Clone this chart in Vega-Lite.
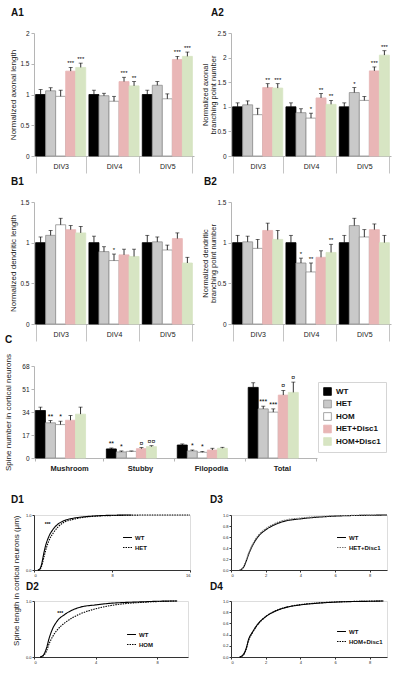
{
"$schema": "https://vega.github.io/schema/vega-lite/v6.json",
"padding": {"left": 3, "top": 8, "right": 2, "bottom": 2},
"config": {"font": "Liberation Sans", "view": {"stroke": null}, "axis": {"grid": false, "labelColor": "#222", "titleColor": "#222"}, "title": {"color": "#111"}},
"datasets": {
"a1": [
{"g":"DIV3","s":"WT","v":1.00,"e":1.08,"sig":""},
{"g":"DIV3","s":"HET","v":1.06,"e":1.11,"sig":""},
{"g":"DIV3","s":"HOM","v":0.97,"e":1.07,"sig":""},
{"g":"DIV3","s":"HET+Disc1","v":1.38,"e":1.44,"sig":"***"},
{"g":"DIV3","s":"HOM+Disc1","v":1.44,"e":1.51,"sig":"***"},
{"g":"DIV4","s":"WT","v":1.00,"e":1.07,"sig":""},
{"g":"DIV4","s":"HET","v":0.98,"e":1.02,"sig":""},
{"g":"DIV4","s":"HOM","v":0.89,"e":0.97,"sig":""},
{"g":"DIV4","s":"HET+Disc1","v":1.21,"e":1.28,"sig":"***"},
{"g":"DIV4","s":"HOM+Disc1","v":1.14,"e":1.21,"sig":"**"},
{"g":"DIV5","s":"WT","v":1.00,"e":1.07,"sig":""},
{"g":"DIV5","s":"HET","v":1.15,"e":1.21,"sig":""},
{"g":"DIV5","s":"HOM","v":0.93,"e":1.01,"sig":""},
{"g":"DIV5","s":"HET+Disc1","v":1.57,"e":1.62,"sig":"***"},
{"g":"DIV5","s":"HOM+Disc1","v":1.62,"e":1.69,"sig":"***"}
],
"a2": [
{"g":"DIV3","s":"WT","v":1.00,"e":1.08,"sig":""},
{"g":"DIV3","s":"HET","v":1.04,"e":1.12,"sig":""},
{"g":"DIV3","s":"HOM","v":0.84,"e":0.97,"sig":""},
{"g":"DIV3","s":"HET+Disc1","v":1.39,"e":1.47,"sig":"**"},
{"g":"DIV3","s":"HOM+Disc1","v":1.38,"e":1.47,"sig":"***"},
{"g":"DIV4","s":"WT","v":1.00,"e":1.08,"sig":""},
{"g":"DIV4","s":"HET","v":0.88,"e":0.96,"sig":""},
{"g":"DIV4","s":"HOM","v":0.77,"e":0.87,"sig":"*"},
{"g":"DIV4","s":"HET+Disc1","v":1.18,"e":1.27,"sig":"**"},
{"g":"DIV4","s":"HOM+Disc1","v":1.05,"e":1.13,"sig":"**"},
{"g":"DIV5","s":"WT","v":1.00,"e":1.08,"sig":""},
{"g":"DIV5","s":"HET","v":1.29,"e":1.39,"sig":"*"},
{"g":"DIV5","s":"HOM","v":1.13,"e":1.21,"sig":""},
{"g":"DIV5","s":"HET+Disc1","v":1.73,"e":1.81,"sig":"***"},
{"g":"DIV5","s":"HOM+Disc1","v":2.05,"e":2.14,"sig":"***"}
],
"b1": [
{"g":"DIV3","s":"WT","v":1.00,"e":1.07,"sig":""},
{"g":"DIV3","s":"HET","v":1.09,"e":1.15,"sig":""},
{"g":"DIV3","s":"HOM","v":1.22,"e":1.30,"sig":""},
{"g":"DIV3","s":"HET+Disc1","v":1.16,"e":1.21,"sig":""},
{"g":"DIV3","s":"HOM+Disc1","v":1.12,"e":1.20,"sig":""},
{"g":"DIV4","s":"WT","v":1.00,"e":1.08,"sig":""},
{"g":"DIV4","s":"HET","v":0.89,"e":0.95,"sig":""},
{"g":"DIV4","s":"HOM","v":0.78,"e":0.86,"sig":"*"},
{"g":"DIV4","s":"HET+Disc1","v":0.85,"e":0.92,"sig":""},
{"g":"DIV4","s":"HOM+Disc1","v":0.83,"e":0.92,"sig":""},
{"g":"DIV5","s":"WT","v":1.00,"e":1.09,"sig":""},
{"g":"DIV5","s":"HET","v":1.01,"e":1.07,"sig":""},
{"g":"DIV5","s":"HOM","v":0.91,"e":0.97,"sig":""},
{"g":"DIV5","s":"HET+Disc1","v":1.05,"e":1.12,"sig":""},
{"g":"DIV5","s":"HOM+Disc1","v":0.75,"e":0.82,"sig":""}
],
"b2": [
{"g":"DIV3","s":"WT","v":1.00,"e":1.09,"sig":""},
{"g":"DIV3","s":"HET","v":1.01,"e":1.08,"sig":""},
{"g":"DIV3","s":"HOM","v":0.93,"e":1.04,"sig":""},
{"g":"DIV3","s":"HET+Disc1","v":1.15,"e":1.24,"sig":""},
{"g":"DIV3","s":"HOM+Disc1","v":1.04,"e":1.15,"sig":""},
{"g":"DIV4","s":"WT","v":1.00,"e":1.09,"sig":""},
{"g":"DIV4","s":"HET","v":0.75,"e":0.81,"sig":"*"},
{"g":"DIV4","s":"HOM","v":0.64,"e":0.75,"sig":"**"},
{"g":"DIV4","s":"HET+Disc1","v":0.82,"e":0.90,"sig":""},
{"g":"DIV4","s":"HOM+Disc1","v":0.88,"e":0.98,"sig":"**"},
{"g":"DIV5","s":"WT","v":1.00,"e":1.09,"sig":""},
{"g":"DIV5","s":"HET","v":1.21,"e":1.30,"sig":""},
{"g":"DIV5","s":"HOM","v":1.07,"e":1.16,"sig":""},
{"g":"DIV5","s":"HET+Disc1","v":1.16,"e":1.23,"sig":""},
{"g":"DIV5","s":"HOM+Disc1","v":1.00,"e":1.09,"sig":""}
],
"c": [
{"g":"Mushroom","s":"WT","v":35.1,"e":37.6,"sig":""},
{"g":"Mushroom","s":"HET","v":26.0,"e":27.7,"sig":"**"},
{"g":"Mushroom","s":"HOM","v":24.7,"e":27.2,"sig":"*"},
{"g":"Mushroom","s":"HET+Disc1","v":27.9,"e":31.4,"sig":""},
{"g":"Mushroom","s":"HOM+Disc1","v":32.4,"e":37.6,"sig":""},
{"g":"Stubby","s":"WT","v":6.7,"e":7.4,"sig":"**"},
{"g":"Stubby","s":"HET","v":4.5,"e":5.2,"sig":"*"},
{"g":"Stubby","s":"HOM","v":4.9,"e":5.2,"sig":""},
{"g":"Stubby","s":"HET+Disc1","v":6.9,"e":7.7,"sig":"¤"},
{"g":"Stubby","s":"HOM+Disc1","v":8.4,"e":9.1,"sig":"¤¤"},
{"g":"Filopodia","s":"WT","v":9.6,"e":10.4,"sig":""},
{"g":"Filopodia","s":"HET","v":5.2,"e":5.9,"sig":"*"},
{"g":"Filopodia","s":"HOM","v":4.2,"e":4.9,"sig":"*"},
{"g":"Filopodia","s":"HET+Disc1","v":5.9,"e":7.2,"sig":""},
{"g":"Filopodia","s":"HOM+Disc1","v":7.2,"e":7.9,"sig":""},
{"g":"Total","s":"WT","v":52.2,"e":55.6,"sig":""},
{"g":"Total","s":"HET","v":36.3,"e":38.3,"sig":"***"},
{"g":"Total","s":"HOM","v":33.9,"e":36.3,"sig":"***"},
{"g":"Total","s":"HET+Disc1","v":46.5,"e":49.9,"sig":"¤"},
{"g":"Total","s":"HOM+Disc1","v":48.5,"e":56.1,"sig":"¤"}
],
"d1": [
{"s":"WT","x":0.4,"y":0},{"s":"WT","x":0.6,"y":0.02},{"s":"WT","x":0.8,"y":0.12},{"s":"WT","x":1.0,"y":0.3},{"s":"WT","x":1.2,"y":0.45},{"s":"WT","x":1.5,"y":0.6},{"s":"WT","x":2,"y":0.75},{"s":"WT","x":2.5,"y":0.84},{"s":"WT","x":3,"y":0.89},{"s":"WT","x":4,"y":0.94},{"s":"WT","x":5,"y":0.965},{"s":"WT","x":6,"y":0.98},{"s":"WT","x":7,"y":0.99},{"s":"WT","x":8,"y":0.995},{"s":"WT","x":10,"y":1.0},
{"s":"HET","x":0.4,"y":0},{"s":"HET","x":0.6,"y":0.01},{"s":"HET","x":0.8,"y":0.08},{"s":"HET","x":1.0,"y":0.22},{"s":"HET","x":1.2,"y":0.36},{"s":"HET","x":1.5,"y":0.52},{"s":"HET","x":2,"y":0.68},{"s":"HET","x":2.5,"y":0.79},{"s":"HET","x":3,"y":0.86},{"s":"HET","x":4,"y":0.92},{"s":"HET","x":5,"y":0.955},{"s":"HET","x":6,"y":0.975},{"s":"HET","x":7,"y":0.985},{"s":"HET","x":8,"y":0.99},{"s":"HET","x":10,"y":0.997},{"s":"HET","x":12,"y":1.0},{"s":"HET","x":16,"y":1.0}
],
"d2": [
{"s":"WT","x":0.4,"y":0},{"s":"WT","x":0.6,"y":0.03},{"s":"WT","x":0.8,"y":0.15},{"s":"WT","x":1.0,"y":0.35},{"s":"WT","x":1.2,"y":0.5},{"s":"WT","x":1.5,"y":0.64},{"s":"WT","x":2,"y":0.76},{"s":"WT","x":2.5,"y":0.84},{"s":"WT","x":3,"y":0.89},{"s":"WT","x":4,"y":0.93},{"s":"WT","x":5,"y":0.96},{"s":"WT","x":6,"y":0.975},{"s":"WT","x":7,"y":0.985},{"s":"WT","x":8,"y":0.995},{"s":"WT","x":9.3,"y":1.0},
{"s":"HOM","x":0.4,"y":0},{"s":"HOM","x":0.6,"y":0.02},{"s":"HOM","x":0.8,"y":0.1},{"s":"HOM","x":1.0,"y":0.25},{"s":"HOM","x":1.2,"y":0.36},{"s":"HOM","x":1.5,"y":0.48},{"s":"HOM","x":2,"y":0.61},{"s":"HOM","x":2.5,"y":0.7},{"s":"HOM","x":3,"y":0.77},{"s":"HOM","x":4,"y":0.86},{"s":"HOM","x":5,"y":0.92},{"s":"HOM","x":6,"y":0.955},{"s":"HOM","x":7,"y":0.975},{"s":"HOM","x":8,"y":0.99},{"s":"HOM","x":9.3,"y":1.0}
],
"d3": [
{"s":"WT","x":0.5,"y":0},{"s":"WT","x":0.7,"y":0.04},{"s":"WT","x":0.9,"y":0.18},{"s":"WT","x":1.0,"y":0.27},{"s":"WT","x":1.25,"y":0.45},{"s":"WT","x":1.5,"y":0.58},{"s":"WT","x":2,"y":0.73},{"s":"WT","x":2.5,"y":0.82},{"s":"WT","x":3,"y":0.88},{"s":"WT","x":4,"y":0.93},{"s":"WT","x":5,"y":0.96},{"s":"WT","x":6,"y":0.98},{"s":"WT","x":7,"y":0.99},{"s":"WT","x":8,"y":0.995},{"s":"WT","x":9,"y":1.0},
{"s":"HET+Disc1","x":0.5,"y":0},{"s":"HET+Disc1","x":0.7,"y":0.05},{"s":"HET+Disc1","x":0.9,"y":0.2},{"s":"HET+Disc1","x":1.0,"y":0.29},{"s":"HET+Disc1","x":1.25,"y":0.47},{"s":"HET+Disc1","x":1.5,"y":0.6},{"s":"HET+Disc1","x":2,"y":0.75},{"s":"HET+Disc1","x":2.5,"y":0.84},{"s":"HET+Disc1","x":3,"y":0.9},{"s":"HET+Disc1","x":4,"y":0.945},{"s":"HET+Disc1","x":5,"y":0.97},{"s":"HET+Disc1","x":6,"y":0.985},{"s":"HET+Disc1","x":7,"y":0.993},{"s":"HET+Disc1","x":8,"y":0.998},{"s":"HET+Disc1","x":9,"y":1.0}
],
"d4": [
{"s":"WT","x":0.5,"y":0},{"s":"WT","x":0.7,"y":0.04},{"s":"WT","x":0.9,"y":0.18},{"s":"WT","x":1.0,"y":0.3},{"s":"WT","x":1.25,"y":0.45},{"s":"WT","x":1.5,"y":0.57},{"s":"WT","x":2,"y":0.72},{"s":"WT","x":2.5,"y":0.81},{"s":"WT","x":3,"y":0.87},{"s":"WT","x":4,"y":0.93},{"s":"WT","x":5,"y":0.96},{"s":"WT","x":6,"y":0.98},{"s":"WT","x":7,"y":0.99},{"s":"WT","x":8,"y":0.995},{"s":"WT","x":8.8,"y":1.0},
{"s":"HOM+Disc1","x":0.5,"y":0},{"s":"HOM+Disc1","x":0.7,"y":0.03},{"s":"HOM+Disc1","x":0.9,"y":0.16},{"s":"HOM+Disc1","x":1.0,"y":0.28},{"s":"HOM+Disc1","x":1.25,"y":0.44},{"s":"HOM+Disc1","x":1.5,"y":0.56},{"s":"HOM+Disc1","x":2,"y":0.72},{"s":"HOM+Disc1","x":2.5,"y":0.815},{"s":"HOM+Disc1","x":3,"y":0.875},{"s":"HOM+Disc1","x":4,"y":0.935},{"s":"HOM+Disc1","x":5,"y":0.965},{"s":"HOM+Disc1","x":6,"y":0.982},{"s":"HOM+Disc1","x":7,"y":0.992},{"s":"HOM+Disc1","x":8,"y":0.997},{"s":"HOM+Disc1","x":8.8,"y":1.0}
],
"n1": [{"x":1.4,"y":0.84,"t":"***"}],
"n2": [{"x":1.7,"y":0.79,"t":"***"}],
"empty": []
},
"resolve": {"scale": {"fill": "independent", "stroke": "independent", "strokeDash": "independent"}, "legend": {"fill": "independent", "stroke": "independent", "strokeDash": "independent"}},
"columns": 3,
"bounds": "flush",
"align": {"row": "each", "column": "each"},
"spacing": {"row": 31, "column": 37},
"concat": [
{
"title": {"text": "A1", "anchor": "start", "frame": "group", "dx": -23, "offset": 12, "fontSize": 10, "fontWeight": "bold"},
"width": 160, "height": 123,
"data": {"name": "a1"},
"encoding": {
"x": {"field": "g", "type": "nominal", "sort": ["DIV3","DIV4","DIV5"], "scale": {"paddingInner": 0.06, "paddingOuter": 0.03}, "axis": {"title": null, "labelAngle": 0, "labelFontSize": 7, "tickSize": 17, "tickBand": "extent", "labelPadding": -10.5, "tickColor": "#c4c4c4", "domainColor": "#b5b5b5"}},
"xOffset": {"field": "s", "type": "nominal", "sort": ["WT","HET","HOM","HET+Disc1","HOM+Disc1"], "scale": {"paddingInner": 0, "paddingOuter": 0}},
"y": {"field": "v", "type": "quantitative", "scale": {"domain": [0, 2], "nice": false}, "axis": {"title": "Normalized axonal length", "values": [0, 0.5, 1, 1.5, 2], "format": "~g", "labelFontSize": 6.5, "tickSize": 3, "labelPadding": 2, "minExtent": 14, "maxExtent": 14, "titlePadding": 3, "titleFontSize": 8, "titleFontWeight": "normal", "domainColor": "#b5b5b5", "tickColor": "#b5b5b5"}}
},
"layer": [
{"mark": {"type": "bar", "strokeWidth": 0.8}, "encoding": {"fill": {"field": "s", "type": "nominal", "scale": {"domain": ["WT","HET","HOM","HET+Disc1","HOM+Disc1"], "range": ["#000000","#c9c9c9","#ffffff","#e9b6b6","#d7e5c3"]}, "legend": null}, "stroke": {"field": "s", "type": "nominal", "scale": {"domain": ["WT","HET","HOM","HET+Disc1","HOM+Disc1"], "range": ["#000000","#8f8f8f","#8f8f8f","#e9b6b6","#d7e5c3"]}, "legend": null}}},
{"mark": {"type": "rule", "color": "#000", "strokeWidth": 0.8}, "encoding": {"y2": {"field": "e"}}},
{"mark": {"type": "tick", "color": "#000", "thickness": 0.8, "size": 4}, "encoding": {"y": {"field": "e", "type": "quantitative"}}},
{"mark": {"type": "text", "fontSize": 6, "dy": -1, "baseline": "bottom"}, "encoding": {"y": {"field": "e", "type": "quantitative"}, "text": {"field": "sig"}}}
]
},
{
"title": {"text": "A2", "anchor": "start", "frame": "group", "dx": -20, "offset": 12, "fontSize": 10, "fontWeight": "bold"},
"width": 160, "height": 123,
"data": {"name": "a2"},
"encoding": {
"x": {"field": "g", "type": "nominal", "sort": ["DIV3","DIV4","DIV5"], "scale": {"paddingInner": 0.06, "paddingOuter": 0.03}, "axis": {"title": null, "labelAngle": 0, "labelFontSize": 7, "tickSize": 17, "tickBand": "extent", "labelPadding": -10.5, "tickColor": "#c4c4c4", "domainColor": "#b5b5b5"}},
"xOffset": {"field": "s", "type": "nominal", "sort": ["WT","HET","HOM","HET+Disc1","HOM+Disc1"], "scale": {"paddingInner": 0, "paddingOuter": 0}},
"y": {"field": "v", "type": "quantitative", "scale": {"domain": [0, 2.5], "nice": false}, "axis": {"title": ["Normalized axonal", "branching point number"], "values": [0, 0.5, 1, 1.5, 2, 2.5], "format": "~g", "labelFontSize": 6.5, "tickSize": 3, "labelPadding": 2, "minExtent": 13, "maxExtent": 13, "titlePadding": 1, "titleFontSize": 7.5, "titleLineHeight": 8, "titleFontWeight": "normal", "domainColor": "#b5b5b5", "tickColor": "#b5b5b5"}}
},
"layer": [
{"mark": {"type": "bar", "strokeWidth": 0.8}, "encoding": {"fill": {"field": "s", "type": "nominal", "scale": {"domain": ["WT","HET","HOM","HET+Disc1","HOM+Disc1"], "range": ["#000000","#c9c9c9","#ffffff","#e9b6b6","#d7e5c3"]}, "legend": null}, "stroke": {"field": "s", "type": "nominal", "scale": {"domain": ["WT","HET","HOM","HET+Disc1","HOM+Disc1"], "range": ["#000000","#8f8f8f","#8f8f8f","#e9b6b6","#d7e5c3"]}, "legend": null}}},
{"mark": {"type": "rule", "color": "#000", "strokeWidth": 0.8}, "encoding": {"y2": {"field": "e"}}},
{"mark": {"type": "tick", "color": "#000", "thickness": 0.8, "size": 4}, "encoding": {"y": {"field": "e", "type": "quantitative"}}},
{"mark": {"type": "text", "fontSize": 6, "dy": -1, "baseline": "bottom"}, "encoding": {"y": {"field": "e", "type": "quantitative"}, "text": {"field": "sig"}}}
]
},
{"width": 1, "height": 138, "data": {"name": "empty"}, "mark": {"type": "point", "opacity": 0}},
{
"title": {"text": "B1", "anchor": "start", "frame": "group", "dx": -23, "offset": 12, "fontSize": 10, "fontWeight": "bold"},
"width": 160, "height": 122,
"data": {"name": "b1"},
"encoding": {
"x": {"field": "g", "type": "nominal", "sort": ["DIV3","DIV4","DIV5"], "scale": {"paddingInner": 0.06, "paddingOuter": 0.03}, "axis": {"title": null, "labelAngle": 0, "labelFontSize": 7, "tickSize": 17, "tickBand": "extent", "labelPadding": -10.5, "tickColor": "#c4c4c4", "domainColor": "#b5b5b5"}},
"xOffset": {"field": "s", "type": "nominal", "sort": ["WT","HET","HOM","HET+Disc1","HOM+Disc1"], "scale": {"paddingInner": 0, "paddingOuter": 0}},
"y": {"field": "v", "type": "quantitative", "scale": {"domain": [0, 1.5], "nice": false}, "axis": {"title": "Normalized dendritic length", "values": [0, 0.5, 1, 1.5], "format": "~g", "labelFontSize": 6.5, "tickSize": 3, "labelPadding": 2, "minExtent": 14, "maxExtent": 14, "titlePadding": 3, "titleFontSize": 8, "titleFontWeight": "normal", "domainColor": "#b5b5b5", "tickColor": "#b5b5b5"}}
},
"layer": [
{"mark": {"type": "bar", "strokeWidth": 0.8}, "encoding": {"fill": {"field": "s", "type": "nominal", "scale": {"domain": ["WT","HET","HOM","HET+Disc1","HOM+Disc1"], "range": ["#000000","#c9c9c9","#ffffff","#e9b6b6","#d7e5c3"]}, "legend": null}, "stroke": {"field": "s", "type": "nominal", "scale": {"domain": ["WT","HET","HOM","HET+Disc1","HOM+Disc1"], "range": ["#000000","#8f8f8f","#8f8f8f","#e9b6b6","#d7e5c3"]}, "legend": null}}},
{"mark": {"type": "rule", "color": "#000", "strokeWidth": 0.8}, "encoding": {"y2": {"field": "e"}}},
{"mark": {"type": "tick", "color": "#000", "thickness": 0.8, "size": 4}, "encoding": {"y": {"field": "e", "type": "quantitative"}}},
{"mark": {"type": "text", "fontSize": 6, "dy": -1, "baseline": "bottom"}, "encoding": {"y": {"field": "e", "type": "quantitative"}, "text": {"field": "sig"}}}
]
},
{
"title": {"text": "B2", "anchor": "start", "frame": "group", "dx": -27, "offset": 12, "fontSize": 10, "fontWeight": "bold"},
"width": 160, "height": 122,
"data": {"name": "b2"},
"encoding": {
"x": {"field": "g", "type": "nominal", "sort": ["DIV3","DIV4","DIV5"], "scale": {"paddingInner": 0.06, "paddingOuter": 0.03}, "axis": {"title": null, "labelAngle": 0, "labelFontSize": 7, "tickSize": 17, "tickBand": "extent", "labelPadding": -10.5, "tickColor": "#c4c4c4", "domainColor": "#b5b5b5"}},
"xOffset": {"field": "s", "type": "nominal", "sort": ["WT","HET","HOM","HET+Disc1","HOM+Disc1"], "scale": {"paddingInner": 0, "paddingOuter": 0}},
"y": {"field": "v", "type": "quantitative", "scale": {"domain": [0, 1.5], "nice": false}, "axis": {"title": ["Normalized dendritic", "branching point number"], "values": [0, 0.5, 1, 1.5], "format": "~g", "labelFontSize": 6.5, "tickSize": 3, "labelPadding": 2, "minExtent": 13, "maxExtent": 13, "titlePadding": 1, "titleFontSize": 7.5, "titleLineHeight": 8, "titleFontWeight": "normal", "domainColor": "#b5b5b5", "tickColor": "#b5b5b5"}}
},
"layer": [
{"mark": {"type": "bar", "strokeWidth": 0.8}, "encoding": {"fill": {"field": "s", "type": "nominal", "scale": {"domain": ["WT","HET","HOM","HET+Disc1","HOM+Disc1"], "range": ["#000000","#c9c9c9","#ffffff","#e9b6b6","#d7e5c3"]}, "legend": null}, "stroke": {"field": "s", "type": "nominal", "scale": {"domain": ["WT","HET","HOM","HET+Disc1","HOM+Disc1"], "range": ["#000000","#8f8f8f","#8f8f8f","#e9b6b6","#d7e5c3"]}, "legend": null}}},
{"mark": {"type": "rule", "color": "#000", "strokeWidth": 0.8}, "encoding": {"y2": {"field": "e"}}},
{"mark": {"type": "tick", "color": "#000", "thickness": 0.8, "size": 4}, "encoding": {"y": {"field": "e", "type": "quantitative"}}},
{"mark": {"type": "text", "fontSize": 6, "dy": -1, "baseline": "bottom"}, "encoding": {"y": {"field": "e", "type": "quantitative"}, "text": {"field": "sig"}}}
]
},
{"width": 1, "height": 133, "data": {"name": "empty"}, "mark": {"type": "point", "opacity": 0}},
{
"bounds": "flush",
"resolve": {"scale": {"fill": "independent", "stroke": "independent"}, "legend": {"fill": "independent", "stroke": "independent"}},
"vconcat": [
{
"title": {"text": "C", "anchor": "start", "frame": "group", "dx": -29, "offset": 9, "fontSize": 10, "fontWeight": "bold"},
"width": 283, "height": 92,
"data": {"name": "c"},
"encoding": {
"x": {"field": "g", "type": "nominal", "sort": ["Mushroom","Stubby","Filopodia","Total"], "scale": {"paddingInner": 0.05, "paddingOuter": 0.02}, "axis": {"title": null, "labelAngle": 0, "labelFontSize": 7.5, "labelFontWeight": "bold", "tickSize": 3, "tickBand": "extent", "labelPadding": 3, "tickColor": "#b5b5b5", "domainColor": "#b5b5b5"}},
"xOffset": {"field": "s", "type": "nominal", "sort": ["WT","HET","HOM","HET+Disc1","HOM+Disc1"], "scale": {"paddingInner": 0, "paddingOuter": 0}},
"y": {"field": "v", "type": "quantitative", "scale": {"domain": [0, 68], "nice": false}, "axis": {"title": "Spine number in cortical neurons", "values": [0, 17, 34, 51, 68], "labelFontSize": 6.5, "tickSize": 3, "labelPadding": 2, "minExtent": 14, "maxExtent": 14, "titlePadding": 8, "titleFontSize": 8, "titleFontWeight": "normal", "domainColor": "#b5b5b5", "tickColor": "#b5b5b5"}}
},
"layer": [
{"mark": {"type": "bar", "strokeWidth": 0.8}, "encoding": {
"fill": {"field": "s", "type": "nominal", "scale": {"domain": ["WT","HET","HOM","HET+Disc1","HOM+Disc1"], "range": ["#000000","#c9c9c9","#ffffff","#e9b6b6","#d7e5c3"]}, "legend": {"orient": "none", "legendX": 284, "legendY": 16, "title": null, "symbolType": "square", "symbolSize": 60, "labelFontSize": 8, "labelFontWeight": "bold", "labelColor": "#111", "strokeColor": "#d5d5d5", "padding": 5, "rowPadding": 1.5, "labelOffset": 4, "symbolStrokeWidth": 0.8}},
"stroke": {"field": "s", "type": "nominal", "scale": {"domain": ["WT","HET","HOM","HET+Disc1","HOM+Disc1"], "range": ["#000000","#8f8f8f","#8f8f8f","#e9b6b6","#d7e5c3"]}, "legend": {"orient": "none", "legendX": 284, "legendY": 16, "title": null, "symbolType": "square", "symbolSize": 60, "labelFontSize": 8, "labelFontWeight": "bold", "labelColor": "#111", "strokeColor": "#d5d5d5", "padding": 5, "rowPadding": 1.5, "labelOffset": 4, "symbolStrokeWidth": 0.8}}}},
{"mark": {"type": "rule", "color": "#000", "strokeWidth": 0.8}, "encoding": {"y2": {"field": "e"}}},
{"mark": {"type": "tick", "color": "#000", "thickness": 0.8, "size": 4}, "encoding": {"y": {"field": "e", "type": "quantitative"}}},
{"mark": {"type": "text", "fontSize": 7, "dy": -1, "baseline": "bottom"}, "encoding": {"y": {"field": "e", "type": "quantitative"}, "text": {"field": "sig"}}}
]
}
]
},
{"width": 1, "height": 118, "data": {"name": "empty"}, "mark": {"type": "point", "opacity": 0}},
{"width": 1, "height": 1, "data": {"name": "empty"}, "mark": {"type": "point", "opacity": 0}},
{
"title": {"text": "D1", "anchor": "start", "frame": "group", "dx": -23, "offset": 8, "fontSize": 10, "fontWeight": "bold"},
"width": 156, "height": 55,
"view": {"stroke": "#dddddd"},
"layer": [
{"data": {"name": "d1"}, "mark": {"type": "line", "strokeWidth": 1.1, "interpolate": "monotone"},
"encoding": {
"x": {"field": "x", "type": "quantitative", "scale": {"domain": [0, 16], "nice": false}, "axis": {"title": null, "values": [0,2,4,6,8,10,12,14,16], "labelFontSize": 4, "tickSize": 2, "labelPadding": 1, "domainColor": "#333", "tickColor": "#333"}},
"y": {"field": "y", "type": "quantitative", "scale": {"domain": [0, 1], "nice": false}, "axis": {"title": "Spine length in cortical neurons (μm)", "titleAnchor": "end", "titleFontSize": 8, "titleFontWeight": "normal", "titlePadding": 4, "values": [0,0.2,0.4,0.6,0.8,1], "format": ".1f", "labelFontSize": 4, "tickSize": 2, "labelPadding": 1, "minExtent": 10, "maxExtent": 10, "domainColor": "#333", "tickColor": "#333"}},
"stroke": {"field": "s", "type": "nominal", "scale": {"domain": ["WT","HET"], "range": ["#000000","#000000"]}, "legend": {"orient": "none", "legendX": 88, "legendY": 17, "title": null, "symbolType": "stroke", "symbolSize": 80, "symbolStrokeWidth": 1.2, "labelFontSize": 6, "labelFontWeight": "bold", "labelColor": "#111", "rowPadding": 1, "labelOffset": 2, "padding": 0}},
"strokeDash": {"field": "s", "type": "nominal", "scale": {"domain": ["WT","HET"], "range": [[1,0],[1.5,1]]}, "legend": {"orient": "none", "legendX": 88, "legendY": 17, "title": null, "symbolType": "stroke", "symbolSize": 80, "symbolStrokeWidth": 1.2, "labelFontSize": 6, "labelFontWeight": "bold", "labelColor": "#111", "rowPadding": 1, "labelOffset": 2, "padding": 0}}
}},
{"data": {"name": "n1"}, "mark": {"type": "text", "fontSize": 5, "fontWeight": "bold"}, "encoding": {"x": {"field": "x", "type": "quantitative"}, "y": {"field": "y", "type": "quantitative"}, "text": {"field": "t"}}}
]
},
{
"title": {"text": "D3", "anchor": "start", "frame": "group", "dx": -21, "offset": 8, "fontSize": 10, "fontWeight": "bold"},
"width": 156, "height": 55,
"view": {"stroke": "#dddddd"},
"data": {"name": "d3"},
"mark": {"type": "line", "strokeWidth": 1.1, "interpolate": "monotone"},
"encoding": {
"x": {"field": "x", "type": "quantitative", "scale": {"domain": [0, 9], "nice": false}, "axis": {"title": null, "values": [0,2,4,6,8], "labelFontSize": 4, "tickSize": 2, "labelPadding": 1, "domainColor": "#333", "tickColor": "#333"}},
"y": {"field": "y", "type": "quantitative", "scale": {"domain": [0, 1], "nice": false}, "axis": {"title": null, "values": [0,0.2,0.4,0.6,0.8,1], "format": ".1f", "labelFontSize": 4, "tickSize": 2, "labelPadding": 1, "minExtent": 10, "maxExtent": 10, "domainColor": "#333", "tickColor": "#333"}},
"stroke": {"field": "s", "type": "nominal", "scale": {"domain": ["WT","HET+Disc1"], "range": ["#000000","#777777"]}, "legend": {"orient": "none", "legendX": 105, "legendY": 17, "title": null, "symbolType": "stroke", "symbolSize": 80, "symbolStrokeWidth": 1.2, "labelFontSize": 6, "labelFontWeight": "bold", "labelColor": "#111", "rowPadding": 1, "labelOffset": 2, "padding": 0}},
"strokeDash": {"field": "s", "type": "nominal", "scale": {"domain": ["WT","HET+Disc1"], "range": [[1,0],[1.5,1]]}, "legend": {"orient": "none", "legendX": 105, "legendY": 17, "title": null, "symbolType": "stroke", "symbolSize": 80, "symbolStrokeWidth": 1.2, "labelFontSize": 6, "labelFontWeight": "bold", "labelColor": "#111", "rowPadding": 1, "labelOffset": 2, "padding": 0}}
}
},
{"width": 1, "height": 1, "data": {"name": "empty"}, "mark": {"type": "point", "opacity": 0}},
{
"title": {"text": "D2", "anchor": "start", "frame": "group", "dx": -8, "offset": 7, "fontSize": 10, "fontWeight": "bold"},
"width": 154, "height": 56,
"view": {"stroke": "#dddddd"},
"layer": [
{"data": {"name": "d2"}, "mark": {"type": "line", "strokeWidth": 1.1, "interpolate": "monotone"},
"encoding": {
"x": {"field": "x", "type": "quantitative", "scale": {"domain": [0, 10], "nice": false}, "axis": {"title": null, "values": [0,2,4,6,8,10], "labelFontSize": 4, "tickSize": 2, "labelPadding": 1, "domainColor": "#333", "tickColor": "#333"}},
"y": {"field": "y", "type": "quantitative", "scale": {"domain": [0, 1], "nice": false}, "axis": {"title": null, "values": [0,0.2,0.4,0.6,0.8,1], "format": ".1f", "labelFontSize": 4, "tickSize": 2, "labelPadding": 1, "minExtent": 10, "maxExtent": 10, "domainColor": "#333", "tickColor": "#333"}},
"stroke": {"field": "s", "type": "nominal", "scale": {"domain": ["WT","HOM"], "range": ["#000000","#000000"]}, "legend": {"orient": "none", "legendX": 92, "legendY": 28, "title": null, "symbolType": "stroke", "symbolSize": 80, "symbolStrokeWidth": 1.2, "labelFontSize": 6, "labelFontWeight": "bold", "labelColor": "#111", "rowPadding": 1, "labelOffset": 2, "padding": 0}},
"strokeDash": {"field": "s", "type": "nominal", "scale": {"domain": ["WT","HOM"], "range": [[1,0],[1.5,1]]}, "legend": {"orient": "none", "legendX": 92, "legendY": 28, "title": null, "symbolType": "stroke", "symbolSize": 80, "symbolStrokeWidth": 1.2, "labelFontSize": 6, "labelFontWeight": "bold", "labelColor": "#111", "rowPadding": 1, "labelOffset": 2, "padding": 0}}
}},
{"data": {"name": "n2"}, "mark": {"type": "text", "fontSize": 5, "fontWeight": "bold"}, "encoding": {"x": {"field": "x", "type": "quantitative"}, "y": {"field": "y", "type": "quantitative"}, "text": {"field": "t"}}}
]
},
{
"title": {"text": "D4", "anchor": "start", "frame": "group", "dx": -21, "offset": 7, "fontSize": 10, "fontWeight": "bold"},
"width": 156, "height": 56,
"view": {"stroke": "#dddddd"},
"data": {"name": "d4"},
"mark": {"type": "line", "strokeWidth": 1.1, "interpolate": "monotone"},
"encoding": {
"x": {"field": "x", "type": "quantitative", "scale": {"domain": [0, 9], "nice": false}, "axis": {"title": null, "values": [0,2,4,6,8], "labelFontSize": 4, "tickSize": 2, "labelPadding": 1, "domainColor": "#333", "tickColor": "#333"}},
"y": {"field": "y", "type": "quantitative", "scale": {"domain": [0, 1], "nice": false}, "axis": {"title": null, "values": [0,0.2,0.4,0.6,0.8,1], "format": ".1f", "labelFontSize": 4, "tickSize": 2, "labelPadding": 1, "minExtent": 10, "maxExtent": 10, "domainColor": "#333", "tickColor": "#333"}},
"stroke": {"field": "s", "type": "nominal", "scale": {"domain": ["WT","HOM+Disc1"], "range": ["#000000","#000000"]}, "legend": {"orient": "none", "legendX": 105, "legendY": 25, "title": null, "symbolType": "stroke", "symbolSize": 80, "symbolStrokeWidth": 1.2, "labelFontSize": 6, "labelFontWeight": "bold", "labelColor": "#111", "rowPadding": 1, "labelOffset": 2, "padding": 0}},
"strokeDash": {"field": "s", "type": "nominal", "scale": {"domain": ["WT","HOM+Disc1"], "range": [[1,0],[1.5,1]]}, "legend": {"orient": "none", "legendX": 105, "legendY": 25, "title": null, "symbolType": "stroke", "symbolSize": 80, "symbolStrokeWidth": 1.2, "labelFontSize": 6, "labelFontWeight": "bold", "labelColor": "#111", "rowPadding": 1, "labelOffset": 2, "padding": 0}}
}
}
]
}
